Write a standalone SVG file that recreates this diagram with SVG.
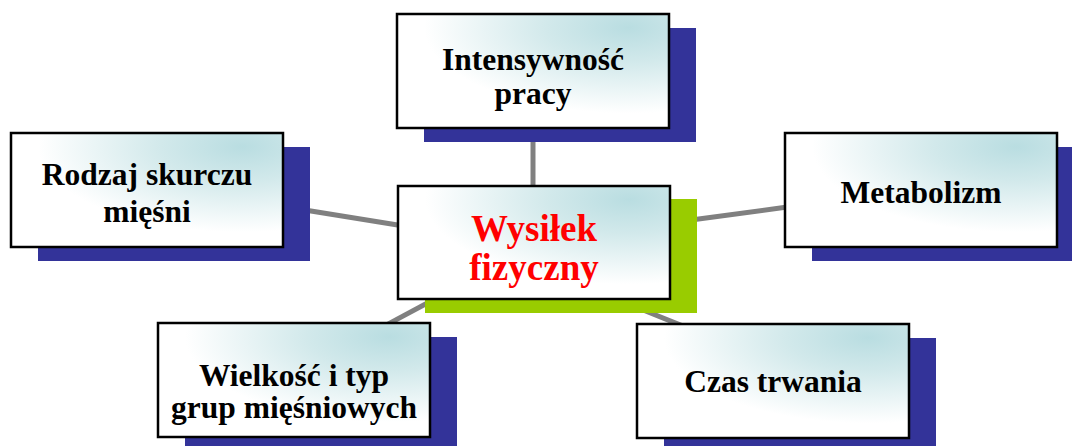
<svg xmlns="http://www.w3.org/2000/svg" width="1072" height="446" viewBox="0 0 1072 446">
  <defs>
    <radialGradient id="boxFill" cx="0.85" cy="0.12" r="0.75" fx="0.85" fy="0.12">
      <stop offset="0" stop-color="#B9DDE1"/>
      <stop offset="0.4" stop-color="#D2E9EB"/>
      <stop offset="1" stop-color="#FFFFFF"/>
    </radialGradient>
    <style>
      .shadow { fill: #333399; }
      .shadow-main { fill: #99CC00; }
      .box { fill: url(#boxFill); stroke: #000000; stroke-width: 2.5; }
      text { font-family: 'Liberation Serif', 'DejaVu Serif', 'Times New Roman', serif; font-weight: bold; text-anchor: middle; }
      .label { font-size: 31.5px; fill: #000000; }
      .label-main { font-size: 37px; fill: #FF0000; }
      .link { stroke: #808080; stroke-width: 5; fill: none; }
    </style>
  </defs>

  <rect width="1072" height="446" fill="#FFFFFF"/>

  <!-- spokes from the central topic to each factor -->
  <g id="connectors">
    <line class="link" x1="533" y1="120" x2="533" y2="195"/>
    <line class="link" x1="280" y1="206" x2="410" y2="227"/>
    <line class="link" x1="680" y1="221.6" x2="800" y2="205.3"/>
    <line class="link" x1="380" y1="328.4" x2="440" y2="296.2"/>
    <line class="link" x1="640" y1="308.7" x2="690" y2="328.9"/>
  </g>

  <g id="node-intensywnosc">
    <rect class="shadow" x="424" y="28" width="272" height="114"/>
    <rect class="box" x="397" y="14" width="272" height="114"/>
    <text class="label" x="533" y="70" font-family="Liberation Serif, serif">Intensywność</text>
    <text class="label" x="533" y="104" font-family="Liberation Serif, serif">pracy</text>
  </g>

  <g id="node-rodzaj">
    <rect class="shadow" x="38" y="147" width="272" height="114"/>
    <rect class="box" x="11" y="133" width="272" height="114"/>
    <text class="label" x="147" y="185">Rodzaj skurczu</text>
    <text class="label" x="147" y="221.5">mięśni</text>
  </g>

  <g id="node-metabolizm">
    <rect class="shadow" x="812" y="147" width="272" height="114"/>
    <rect class="box" x="785" y="133" width="272" height="114"/>
    <text class="label" x="921" y="203">Metabolizm</text>
  </g>

  <g id="node-wielkosc">
    <rect class="shadow" x="185" y="337" width="272" height="114"/>
    <rect class="box" x="158" y="323" width="272" height="114"/>
    <text class="label" x="294" y="385.5">Wielkość i typ</text>
    <text class="label" x="294" y="418">grup mięśniowych</text>
  </g>

  <g id="node-czas">
    <rect class="shadow" x="664" y="338" width="272" height="114"/>
    <rect class="box" x="637" y="324" width="272" height="114"/>
    <text class="label" x="773" y="391.5">Czas trwania</text>
  </g>

  <g id="node-wysilek">
    <rect class="shadow-main" x="425" y="199" width="272" height="114"/>
    <rect class="box" x="398" y="186" width="272" height="113"/>
    <text class="label-main" x="534" y="240.5">Wysiłek</text>
    <text class="label-main" x="534" y="280">fizyczny</text>
  </g>
</svg>
